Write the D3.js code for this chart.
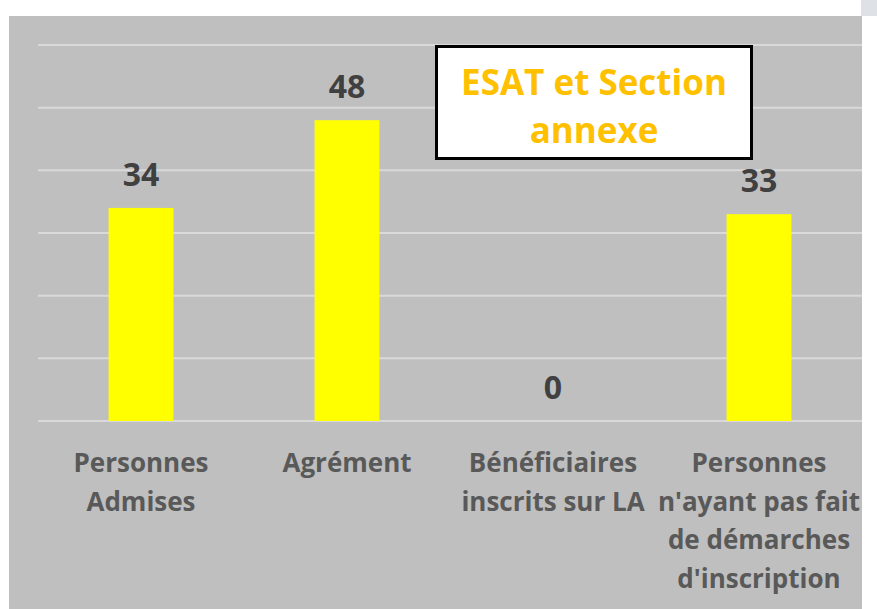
<!DOCTYPE html>
<html>
<head>
<meta charset="utf-8">
<script src="https://cdn.jsdelivr.net/npm/d3@7"></script>
<style>
  body { margin: 0; background: #fff; }
  svg { display: block; }
  text { font-family: "Open Sans", Lato, sans-serif; font-weight: bold; }
</style>
</head>
<body>
<svg id="chart" width="877" height="609"></svg>
<script>
const categories = [
  ["Personnes", "Admises"],
  ["Agrément"],
  ["Bénéficiaires", "inscrits sur LA"],
  ["Personnes", "n'ayant pas fait", "de démarches", "d'inscription"]
];
const values = [34, 48, 0, 33];
const yTicks = [0, 10, 20, 30, 40, 50, 60];
const titleLines = ["ESAT et Section", "annexe"];

const svg = d3.select("#chart");

// backdrop
svg.append("rect").attr("x", 861).attr("y", 0).attr("width", 16).attr("height", 16).attr("fill", "#dee2e6");
svg.append("rect").attr("x", 9).attr("y", 16).attr("width", 853).attr("height", 593).attr("fill", "#bfbfbf");

const plotL = 38, plotR = 862, plotT = 45, plotB = 421;
const keys = categories.map((_, i) => i);

const x = d3.scaleBand().domain(keys).range([plotL, plotR]).paddingInner(0.685).paddingOuter(0.3425);
const y = d3.scaleLinear().domain([0, 60]).range([plotB, plotT]);

svg.append("g").selectAll("line")
  .data(yTicks)
  .enter().append("line")
  .attr("x1", plotL).attr("x2", plotR)
  .attr("y1", d => y(d)).attr("y2", d => y(d))
  .attr("stroke", "#d9d9d9").attr("stroke-width", 2);

svg.append("g").selectAll("rect")
  .data(values)
  .enter().append("rect")
  .attr("x", (_, i) => x(i))
  .attr("y", d => y(d))
  .attr("width", x.bandwidth())
  .attr("height", d => plotB - y(d))
  .attr("fill", "#ffff00");

svg.append("g").selectAll("text")
  .data(values)
  .enter().append("text")
  .attr("x", (_, i) => x(i) + x.bandwidth() / 2)
  .attr("y", d => y(d) - 22)
  .attr("text-anchor", "middle")
  .attr("font-size", 32)
  .attr("fill", "#404040")
  .text(d => d);

const cat = svg.append("g").selectAll("text")
  .data(categories)
  .enter().append("text")
  .attr("x", (_, i) => x(i) + x.bandwidth() / 2)
  .attr("y", 472)
  .attr("text-anchor", "middle")
  .attr("font-size", 26)
  .attr("fill", "#595959");
cat.selectAll("tspan")
  .data(d => d)
  .enter().append("tspan")
  .attr("x", function () { return d3.select(this.parentNode).attr("x"); })
  .attr("dy", (_, j) => j === 0 ? 0 : 38.5)
  .text(d => d);

// title box
svg.append("rect")
  .attr("x", 436.5).attr("y", 46.5).attr("width", 315).attr("height", 112)
  .attr("fill", "#fff").attr("stroke", "#000").attr("stroke-width", 3);
svg.append("g").selectAll("text")
  .data(titleLines)
  .enter().append("text")
  .attr("x", 594)
  .attr("y", (_, i) => 95 + i * 48)
  .attr("text-anchor", "middle")
  .attr("font-size", 35)
  .attr("fill", "#ffc000")
  .text(d => d);
</script>
</body>
</html>
